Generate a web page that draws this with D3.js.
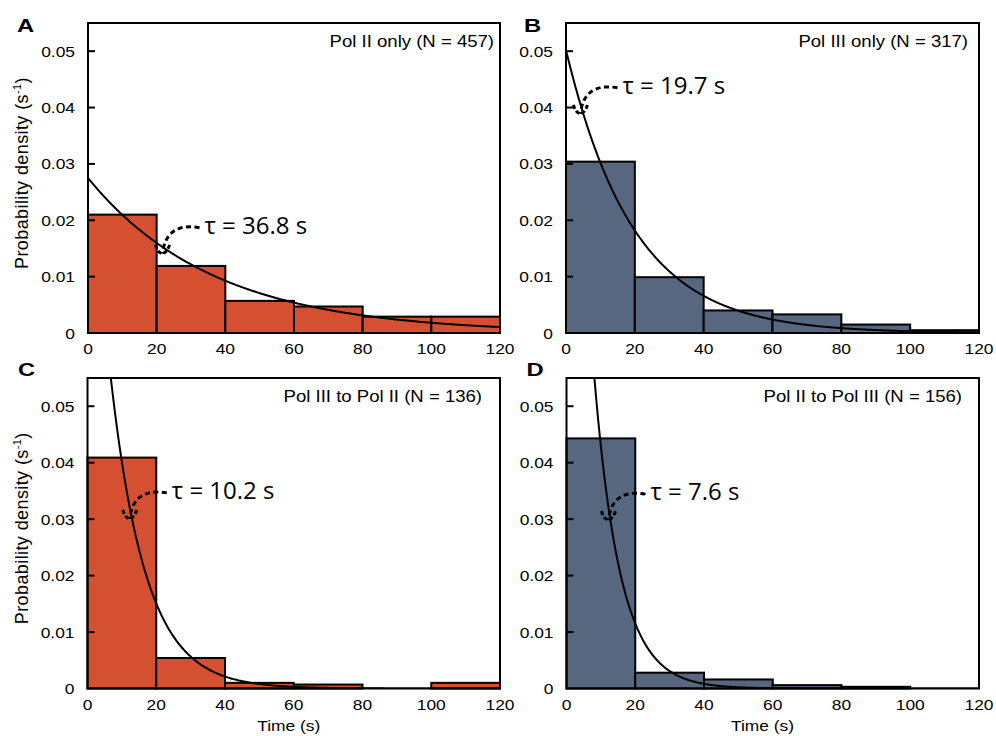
<!DOCTYPE html>
<html>
<head>
<meta charset="utf-8">
<script src="https://cdn.jsdelivr.net/npm/d3@7"></script>
<style>
  html, body { margin: 0; padding: 0; background: #fff; }
  svg { display: block; }
</style>
</head>
<body>
<svg id="chart" width="996" height="736"></svg>
<script>
// Dwell-time histograms (20 s bins) with single-exponential fits.
const binEdges = [0, 20, 40, 60, 80, 100, 120];
const panelLetters = ["A", "B", "C", "D"];
const panelTitles = [
  "Pol II only (N = 457)",
  "Pol III only (N = 317)",
  "Pol III to Pol II (N = 136)",
  "Pol II to Pol III (N = 156)"
];
const densityPolIIOnly   = [0.0210, 0.0119, 0.0057, 0.0047, 0.0029, 0.0029];
const densityPolIIIOnly  = [0.0304, 0.0099, 0.0040, 0.0033, 0.0015, 0.0005];
const densityIIItoII     = [0.0409, 0.0054, 0.0010, 0.0007, 0.0000, 0.0010];
const densityIItoIII     = [0.0443, 0.0028, 0.0016, 0.0006, 0.0003, 0.0000];
const tauSeconds   = [36.8, 19.7, 10.2, 7.6];
const fitAmplitude = [0.0275, 0.0502, 0.107, 0.160];
const arrowAtTime  = [22, 4.5, 12.6, 12.5];
const yTickValues = [0, 0.01, 0.02, 0.03, 0.04, 0.05];
const xTickValues = [0, 20, 40, 60, 80, 100, 120];
const yMax = 0.055;

const densities = [densityPolIIOnly, densityPolIIIOnly, densityIIItoII, densityIItoIII];
const barColors = ["#D45030", "#56677F", "#D45030", "#56677F"];

// Panel geometry
const layout = [
  { x0: 88,    x1: 500, top: 23,  bottom: 333,   letterX: 17,    letterY: 32,    legendPad: 6,  yTitle: true,  xTitleX: null },
  { x0: 566,   x1: 979, top: 23,  bottom: 333,   letterX: 524,   letterY: 32,    legendPad: 11, yTitle: false, xTitleX: null },
  { x0: 87.5,  x1: 500, top: 378, bottom: 688.5, letterX: 18,    letterY: 375.5, legendPad: 18, yTitle: true,  xTitleX: 288.7 },
  { x0: 566.5, x1: 979, top: 378, bottom: 688.5, letterX: 526.5, letterY: 376,   legendPad: 17, yTitle: false, xTitleX: 762.5 }
];

const svg = d3.select("#chart");
const sansFont = "'Liberation Sans', Arial, Helvetica, sans-serif";
const annoFont = "'Open Sans', 'Noto Sans', sans-serif";
const stretch = 1.16;

function label(g, x, y, str, opts = {}) {
  return g.append("text")
    .attr("transform", `translate(${x},${y}) scale(${opts.sx ?? stretch},1)`)
    .attr("text-anchor", opts.anchor || "start")
    .attr("font-family", opts.family || sansFont)
    .attr("font-size", opts.size || 15)
    .attr("font-weight", opts.weight || "normal")
    .attr("fill", "#000")
    .text(str);
}

layout.forEach((L, i) => {
  const g = svg.append("g");
  const x = d3.scaleLinear().domain([0, 120]).range([L.x0, L.x1]);
  const y = d3.scaleLinear().domain([0, yMax]).range([L.bottom, L.top]);

  const clipId = "clip" + i;
  svg.append("clipPath").attr("id", clipId)
    .append("rect")
    .attr("x", L.x0).attr("y", L.top)
    .attr("width", L.x1 - L.x0).attr("height", L.bottom - L.top);

  // Histogram bars
  const bins = densities[i].map((v, k) => ({ lo: binEdges[k], hi: binEdges[k + 1], v }));
  g.selectAll("rect.bar").data(bins.filter(b => b.v > 0)).join("rect")
    .attr("class", "bar")
    .attr("x", b => x(b.lo))
    .attr("y", b => y(b.v))
    .attr("width", b => x(b.hi) - x(b.lo))
    .attr("height", b => y(0) - y(b.v))
    .attr("fill", barColors[i])
    .attr("stroke", "#000")
    .attr("stroke-width", 2);

  // Exponential fit
  const tau = tauSeconds[i], amp = fitAmplitude[i];
  const fit = t => amp * Math.exp(-t / tau);
  const pts = d3.range(0, 120.001, 0.25).map(t => [t, fit(t)]);
  g.append("path")
    .attr("clip-path", `url(#${clipId})`)
    .attr("d", d3.line().x(d => x(d[0])).y(d => y(d[1]))(pts))
    .attr("fill", "none")
    .attr("stroke", "#000")
    .attr("stroke-width", 2);

  // Frame
  g.append("rect")
    .attr("x", L.x0).attr("y", L.top)
    .attr("width", L.x1 - L.x0).attr("height", L.bottom - L.top)
    .attr("fill", "none").attr("stroke", "#000").attr("stroke-width", 2);

  // Y ticks (inward) and labels
  yTickValues.forEach(v => {
    if (v > 0) {
      g.append("line")
        .attr("x1", L.x0).attr("x2", L.x0 + 7)
        .attr("y1", y(v)).attr("y2", y(v))
        .attr("stroke", "#000").attr("stroke-width", 2);
    }
    label(g, L.x0 - 13, y(v) + 5.5, v === 0 ? "0" : d3.format(".2f")(v), { anchor: "end" });
  });

  // X tick labels
  xTickValues.forEach(t => {
    label(g, x(t), L.bottom + 21, String(t), { anchor: "middle" });
  });

  // Panel letter
  label(g, L.letterX, L.letterY, panelLetters[i], { size: 19, weight: "bold", sx: 1.25 });

  // Legend
  label(g, L.x1 - L.legendPad, L.top + 24, panelTitles[i], { anchor: "end", size: 16 });

  // Axis titles
  if (L.yTitle) {
    const cy = (L.top + L.bottom) / 2 - 5;
    const t = g.append("text")
      .attr("transform", `translate(22,${cy}) rotate(-90)`)
      .attr("text-anchor", "middle")
      .attr("font-family", sansFont)
      .attr("font-size", 18)
      .attr("letter-spacing", 0.4)
      .attr("dy", "0.35em");
    t.append("tspan").text("Probability density (s");
    t.append("tspan").attr("dy", -7).attr("font-size", 11).text("-1");
    t.append("tspan").attr("dy", 7).text(")");
  }
  if (L.xTitleX !== null) {
    label(g, L.xTitleX, L.bottom + 42, "Time (s)", { anchor: "middle" });
  }

  // Annotation: dashed arrow to the fit curve and time constant
  const t0 = arrowAtTime[i];
  const px = x(t0), py = y(fit(t0));
  const sx = px + 36, sy = py - 20;
  const tx = px - 1, ty = py + 6;
  const arrow = d3.path();
  arrow.moveTo(sx, sy);
  arrow.bezierCurveTo(px + 14, py - 24, px + 1, py - 15, tx, ty);
  g.append("path")
    .attr("d", arrow.toString())
    .attr("fill", "none").attr("stroke", "#000")
    .attr("stroke-width", 3).attr("stroke-dasharray", "5,3.5");
  const head = d3.path();
  head.moveTo(tx - 7, ty - 9);
  head.quadraticCurveTo(tx - 5, ty - 1, tx, ty);
  head.quadraticCurveTo(tx + 5, ty - 2, tx + 7, ty - 9);
  g.append("path")
    .attr("d", head.toString())
    .attr("fill", "none").attr("stroke", "#000")
    .attr("stroke-width", 3).attr("stroke-dasharray", "4,2.5");
  g.append("text")
    .attr("x", px + 41).attr("y", py - 14)
    .attr("font-family", annoFont)
    .attr("font-size", 24)
    .attr("fill", "#000")
    .text(`τ = ${tau} s`);
});
</script>
</body>
</html>
